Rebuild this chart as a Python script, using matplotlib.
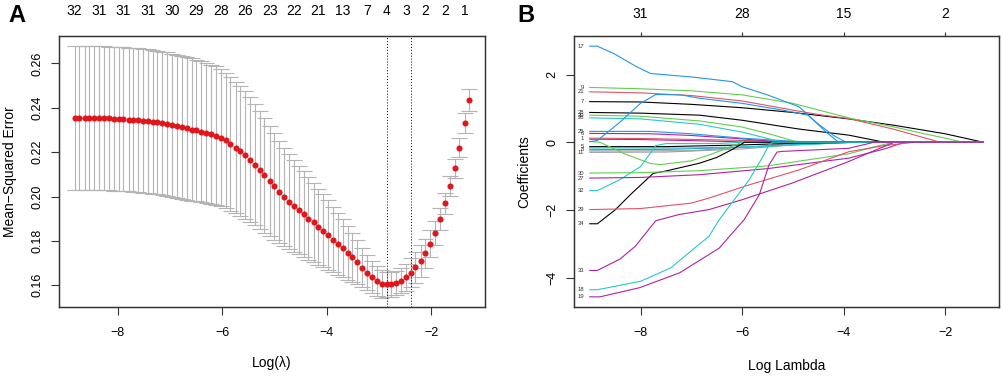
import matplotlib
matplotlib.use("Agg")
import matplotlib.pyplot as plt

plt.rcParams['font.family'] = ['Liberation Sans', 'DejaVu Sans']

# ---- panel A: cross-validated MSE along the lambda path ----
log_lambda = [-8.82, -8.73, -8.63, -8.54, -8.45, -8.35, -8.26, -8.17, -8.07, -7.98,
              -7.89, -7.79, -7.70, -7.61, -7.52, -7.42, -7.33, -7.24, -7.14, -7.05,
              -6.96, -6.86, -6.77, -6.68, -6.58, -6.49, -6.40, -6.30, -6.21, -6.12,
              -6.02, -5.93, -5.84, -5.74, -5.65, -5.56, -5.46, -5.37, -5.28, -5.19,
              -5.09, -5.00, -4.91, -4.81, -4.72, -4.63, -4.53, -4.44, -4.35, -4.25,
              -4.16, -4.07, -3.97, -3.88, -3.79, -3.69, -3.60, -3.51, -3.41, -3.32,
              -3.23, -3.13, -3.04, -2.95, -2.85, -2.76, -2.67, -2.58, -2.48, -2.39,
              -2.30, -2.20, -2.11, -2.02, -1.92, -1.83, -1.74, -1.64, -1.55, -1.46,
              -1.36, -1.27]
cv_mse = [0.2355, 0.2355, 0.2355, 0.2354, 0.2354, 0.2353, 0.2353, 0.2352, 0.2351, 0.2350,
          0.2349, 0.2347, 0.2346, 0.2344, 0.2342, 0.2340, 0.2337, 0.2334, 0.2330, 0.2326,
          0.2321, 0.2317, 0.2312, 0.2307, 0.2302, 0.2298, 0.2292, 0.2287, 0.2281, 0.2275,
          0.2266, 0.2254, 0.2238, 0.2221, 0.2205, 0.2187, 0.2167, 0.2144, 0.2120, 0.2095,
          0.2070, 0.2046, 0.2021, 0.1998, 0.1977, 0.1959, 0.1939, 0.1920, 0.1900, 0.1884,
          0.1864, 0.1846, 0.1827, 0.1806, 0.1786, 0.1768, 0.1745, 0.1726, 0.1705, 0.1680,
          0.1657, 0.1636, 0.1619, 0.1607, 0.1604, 0.1605, 0.1610, 0.1621, 0.1636, 0.1657,
          0.1682, 0.1710, 0.1745, 0.1788, 0.1837, 0.1897, 0.1969, 0.2046, 0.2127, 0.2221,
          0.2332, 0.2435]
cv_sd = [0.0324, 0.0324, 0.0324, 0.0324, 0.0324, 0.0324, 0.0324, 0.0324, 0.0324, 0.0324,
         0.0324, 0.0324, 0.0324, 0.0324, 0.0324, 0.0324, 0.0324, 0.0324, 0.0324, 0.0324,
         0.0324, 0.0323, 0.0323, 0.0322, 0.0321, 0.0320, 0.0318, 0.0316, 0.0314, 0.0312,
         0.0309, 0.0305, 0.0301, 0.0297, 0.0293, 0.0288, 0.0281, 0.0274, 0.0267, 0.0260,
         0.0250, 0.0240, 0.0229, 0.0222, 0.0214, 0.0207, 0.0200, 0.0193, 0.0186, 0.0179,
         0.0172, 0.0165, 0.0156, 0.0147, 0.0138, 0.0129, 0.0120, 0.0111, 0.0100, 0.0090,
         0.0079, 0.0073, 0.0068, 0.0063, 0.0058, 0.0057, 0.0056, 0.0056, 0.0060, 0.0065,
         0.0070, 0.0072, 0.0065, 0.0060, 0.0055, 0.0050, 0.0047, 0.0045, 0.0044, 0.0043,
         0.0046, 0.0051]
lambda_min_idx = 64
lambda_1se_idx = 69
# number of non-zero coefficients shown on the top axis
nz_idx = [0, 5, 10, 15, 20, 25, 30, 35, 40, 45, 50, 55, 60, 64, 68, 72, 76, 80]
nz_labels = ["32", "31", "31", "31", "30", "29", "28", "26", "23", "22", "21", "13",
             "7", "4", "3", "2", "2", "1"]

# ---- panel B: coefficient paths (log lambda, coefficient) ----
path_17 = [(-9.0, 2.84), (-8.85, 2.84), (-8.5, 2.6), (-8.1, 2.25), (-7.8, 2.03), (-7.0, 1.93),
           (-6.19, 1.79), (-6.0, 1.64), (-5.5, 1.40), (-4.88, 1.05), (-4.55, 0.6), (-4.2, 0.2),
           (-3.95, 0.0), (-1.25, 0.0)]
path_4 = [(-9.0, 0.02), (-8.85, 0.05), (-8.4, 0.6), (-8.0, 1.15), (-7.7, 1.41), (-7.2, 1.40),
          (-6.84, 1.30), (-6.0, 1.15), (-5.2, 0.95), (-4.7, 0.8), (-4.35, 0.31), (-4.1, 0.0),
          (-1.25, 0.0)]
path_9 = [(-9.0, 1.62), (-8.0, 1.58), (-7.0, 1.52), (-6.0, 1.40), (-5.0, 1.15), (-3.9, 0.72),
          (-3.0, 0.45), (-2.5, 0.28), (-2.0, 0.12), (-1.65, 0.0), (-1.25, 0.0)]
path_21 = [(-9.0, 1.49), (-8.0, 1.46), (-7.0, 1.38), (-6.0, 1.22), (-5.0, 0.95), (-4.5, 0.82),
           (-3.9, 0.70), (-3.0, 0.38), (-2.1, 0.0), (-1.25, 0.0)]
path_7 = [(-9.0, 1.20), (-8.0, 1.19), (-7.0, 1.12), (-6.0, 1.02), (-5.0, 0.88), (-3.9, 0.69),
          (-3.0, 0.50), (-2.0, 0.25), (-1.25, 0.0)]
path_28 = [(-9.0, 0.88), (-8.0, 0.86), (-6.84, 0.80), (-6.0, 0.65), (-4.88, 0.39), (-3.9, 0.21),
           (-3.2, 0.0), (-1.25, 0.0)]
path_20 = [(-9.0, 0.80), (-8.0, 0.77), (-6.84, 0.63), (-6.0, 0.45), (-5.4, 0.22), (-4.9, 0.0),
           (-1.25, 0.0)]
path_26 = [(-9.0, 0.72), (-8.0, 0.69), (-6.84, 0.53), (-6.0, 0.30), (-5.2, 0.0), (-1.25, 0.0)]
path_25 = [(-9.0, 0.32), (-7.8, 0.32), (-7.0, 0.25), (-6.0, 0.12), (-5.0, 0.03), (-4.5, 0.0),
           (-1.25, 0.0)]
path_6 = [(-9.0, 0.26), (-7.8, 0.25), (-7.0, 0.20), (-6.0, 0.10), (-5.2, 0.0), (-1.25, 0.0)]
path_1 = [(-9.0, 0.12), (-8.0, 0.11), (-6.5, 0.07), (-5.0, 0.02), (-3.8, 0.0), (-1.25, 0.0)]
path_10 = [(-9.0, 0.09), (-8.0, 0.08), (-6.5, 0.03), (-5.8, 0.0), (-1.25, 0.0)]
path_3 = [(-9.0, 0.02), (-8.8, 0.0), (-8.3, -0.35), (-7.8, -0.63), (-7.6, -0.66), (-7.0, -0.55),
          (-6.6, -0.35), (-6.0, 0.0), (-1.25, 0.0)]
path_5 = [(-9.0, -0.13), (-7.5, -0.13), (-6.0, -0.08), (-5.0, -0.03), (-3.6, 0.0), (-1.25, 0.0)]
path_12 = [(-9.0, -0.17), (-7.0, -0.17), (-5.5, -0.12), (-4.5, -0.05), (-3.8, 0.0), (-1.25, 0.0)]
path_8 = [(-9.0, -0.22), (-7.5, -0.21), (-6.0, -0.15), (-5.0, -0.07), (-3.7, 0.0), (-1.25, 0.0)]
path_14 = [(-9.0, -0.26), (-7.0, -0.25), (-5.5, -0.10), (-4.8, 0.0), (-1.25, 0.0)]
path_11 = [(-9.0, -0.30), (-7.5, -0.29), (-6.0, -0.20), (-5.0, -0.08), (-3.9, 0.0), (-1.25, 0.0)]
path_34 = [(-9.0, -2.41), (-8.85, -2.41), (-8.5, -2.0), (-8.2, -1.55), (-7.75, -0.92), (-7.5, -0.85),
           (-6.84, -0.62), (-6.5, -0.45), (-6.2, -0.22), (-5.95, 0.0), (-1.25, 0.0)]
path_32 = [(-9.0, -1.43), (-8.85, -1.43), (-8.4, -1.1), (-8.0, -0.72), (-7.7, -0.1), (-7.5, -0.04),
           (-6.5, -0.04), (-6.0, 0.0), (-1.25, 0.0)]
path_30 = [(-9.0, -0.91), (-8.0, -0.90), (-6.84, -0.84), (-5.5, -0.70), (-3.9, -0.34), (-3.3, -0.1),
           (-3.0, 0.0), (-1.25, 0.0)]
path_27 = [(-9.0, -1.06), (-8.0, -1.04), (-6.84, -0.96), (-5.5, -0.78), (-3.9, -0.47), (-3.2, -0.2),
           (-2.8, 0.0), (-1.25, 0.0)]
path_29 = [(-9.0, -1.99), (-8.0, -1.96), (-7.0, -1.80), (-6.65, -1.65), (-5.86, -1.26), (-4.88, -0.82),
           (-3.9, -0.28), (-3.2, -0.1), (-2.6, 0.0), (-1.25, 0.0)]
path_33 = [(-9.0, -3.79), (-8.85, -3.79), (-8.4, -3.45), (-8.1, -3.07), (-7.85, -2.6), (-7.7, -2.32),
           (-7.25, -2.14), (-6.65, -1.99), (-6.0, -1.7), (-5.0, -1.2), (-3.9, -0.57), (-3.4, -0.25),
           (-3.0, 0.0), (-1.25, 0.0)]
path_18 = [(-9.0, -4.36), (-8.85, -4.36), (-8.0, -4.11), (-7.4, -3.71), (-6.97, -3.17), (-6.65, -2.78),
           (-6.45, -2.29), (-5.86, -1.11), (-5.6, -0.45), (-5.47, -0.08), (-5.4, 0.0), (-1.25, 0.0)]
path_19 = [(-9.0, -4.57), (-8.8, -4.57), (-8.02, -4.30), (-7.23, -3.86), (-6.45, -3.13), (-5.96, -2.29),
           (-5.66, -1.55), (-5.47, -0.67), (-5.31, -0.29), (-5.2, -0.27), (-3.9, -0.18), (-3.4, 0.0),
           (-1.25, 0.0)]

black, red, green, blue, cyan, magenta, grey = ("#000000", "#DF536B", "#61D04F", "#2297E6",
                                               "#28C8CC", "#B0239E", "#9E9E9E")
paths = [("11", path_11, grey), ("14", path_14, grey), ("8", path_8, blue), ("12", path_12, cyan),
         ("5", path_5, black), ("10", path_10, magenta), ("1", path_1, red), ("3", path_3, green),
         ("6", path_6, magenta), ("25", path_25, blue), ("26", path_26, cyan), ("20", path_20, green),
         ("28", path_28, black), ("7", path_7, black), ("21", path_21, red), ("9", path_9, green),
         ("4", path_4, blue), ("17", path_17, blue), ("32", path_32, cyan), ("34", path_34, black),
         ("30", path_30, green), ("27", path_27, magenta), ("29", path_29, red),
         ("33", path_33, magenta), ("18", path_18, cyan), ("19", path_19, magenta)]
hidden_labels = ["14", "12", "10", "3", "4"]
top_ticks_b = [-8, -6, -4, -2]
top_labels_b = ["31", "28", "15", "2"]

fig = plt.figure(figsize=(10.04, 3.78), dpi=100)
axA = fig.add_axes([59 / 1004, 1 - 307 / 378, 426 / 1004, 271 / 378])
axB = fig.add_axes([574 / 1004, 1 - 307 / 378, 425 / 1004, 271 / 378])

# error bars like glmnet (vertical segment + wide caps)
barw = (max(log_lambda) - min(log_lambda)) * 0.02
upper = [m + s for m, s in zip(cv_mse, cv_sd)]
lower = [m - s for m, s in zip(cv_mse, cv_sd)]
axA.vlines(log_lambda, lower, upper, color="#B4B4B4", lw=0.8)
axA.hlines(upper, [x - barw for x in log_lambda], [x + barw for x in log_lambda], color="#B4B4B4", lw=0.8)
axA.hlines(lower, [x - barw for x in log_lambda], [x + barw for x in log_lambda], color="#B4B4B4", lw=0.8)
axA.plot(log_lambda, cv_mse, "o", color="#E0161C", ms=4.4, mec="none", zorder=3)
axA.axvline(log_lambda[lambda_min_idx], color="black", ls=(0, (1, 2)), lw=0.7)
axA.axvline(log_lambda[lambda_1se_idx], color="black", ls=(0, (1, 2)), lw=0.7)
axA.set_xlim(-9.12, -0.97)
axA.set_ylim(0.1502, 0.2724)
axA.set_xticks([-8, -6, -4, -2])
axA.set_yticks([0.16, 0.18, 0.20, 0.22, 0.24, 0.26])
axA.set_yticklabels(["0.16", "0.18", "0.20", "0.22", "0.24", "0.26"])
axA.set_xlabel("Log(λ)", fontsize=10)
axA.set_ylabel("Mean\u2212Squared Error", fontsize=10)
axA.xaxis.set_label_coords(0.5, -0.18)
axA.yaxis.set_label_coords(-0.098, 0.5)
topA = axA.twiny()
topA.set_xlim(axA.get_xlim())
topA.set_xticks([log_lambda[i] for i in nz_idx])
topA.set_xticklabels(nz_labels)
topA.tick_params(axis="x", length=0, pad=13, labelsize=10)

# coefficient paths
for name, pts, col in paths:
    xs = [p[0] for p in pts]
    ys = [p[1] for p in pts]
    axB.plot(xs, ys, color=col, lw=0.8)
    if name not in hidden_labels:
        axB.annotate(name, (xs[0], ys[0]), xytext=(-4, 0), textcoords="offset points",
                     ha="right", va="center", fontsize=4.2, color="#333333")
axB.set_xlim(-9.31, -0.94)
axB.set_ylim(-4.87, 3.14)
axB.set_xticks([-8, -6, -4, -2])
axB.set_yticks([-4, -2, 0, 2])
axB.set_xlabel("Log Lambda", fontsize=10)
axB.set_ylabel("Coefficients", fontsize=10)
axB.xaxis.set_label_coords(0.5, -0.193)
axB.yaxis.set_label_coords(-0.101, 0.5)
topB = axB.twiny()
topB.set_xlim(axB.get_xlim())
topB.set_xticks(top_ticks_b)
topB.set_xticklabels(top_labels_b)
topB.tick_params(axis="x", direction="out", length=3, width=0.8, pad=8, labelsize=10, color="#333333")

for ax in (axA, axB):
    ax.tick_params(axis="both", direction="out", length=5.5, width=0.8, labelsize=9, color="#333333")
    ax.tick_params(axis="x", pad=9)
    ax.tick_params(axis="y", pad=6, labelrotation=90)
    for lab in ax.get_yticklabels():
        lab.set_va("center")
for ax in (axA, axB, topA, topB):
    for sp in ax.spines.values():
        sp.set_linewidth(0.9)
        sp.set_color("#333333")

fig.text(17 / 1004, 1 - 15 / 378, "A", fontsize=17, fontweight="bold", ha="center", va="center")
fig.text(526 / 1004, 1 - 15 / 378, "B", fontsize=17, fontweight="bold", ha="center", va="center")

fig.savefig("out.png", dpi=100)
